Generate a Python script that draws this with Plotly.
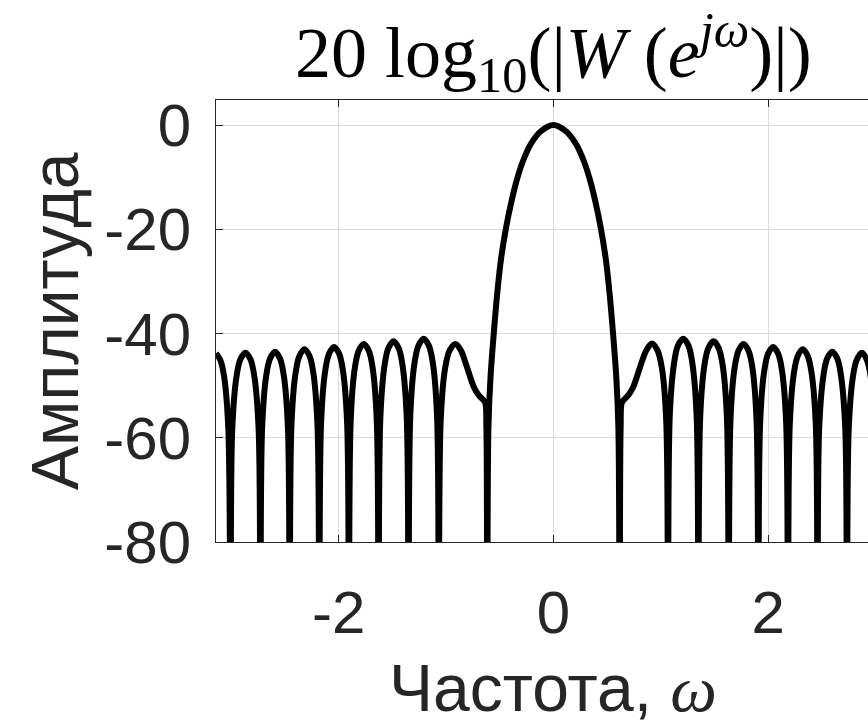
import plotly.graph_objects as go

# Частота (рад/отсчёт) и амплитуда (дБ)
NULL = -100  # глубокие нули уходят ниже нижней границы оси
omega = [
    -3.1416, -3.101, -3.065, -3.027, -3.007,
    -2.990, -2.951, -2.915, -2.868, -2.820, -2.784, -2.745, -2.728,
    -2.712, -2.674, -2.638, -2.592, -2.546, -2.510, -2.472, -2.456,
    -2.439, -2.401, -2.365, -2.318, -2.271, -2.235, -2.197, -2.180,
    -2.163, -2.125, -2.089, -2.042, -1.995, -1.959, -1.921, -1.904,
    -1.887, -1.849, -1.813, -1.766, -1.719, -1.683, -1.645, -1.628,
    -1.611, -1.572, -1.536, -1.489, -1.441, -1.405, -1.366, -1.349,
    -1.332, -1.293, -1.256, -1.208, -1.160, -1.123, -1.084, -1.067,
    -1.049, -1.008, -0.965, -0.912, -0.862, -0.820, -0.780, -0.740,
    -0.700, -0.660, -0.635, -0.624, -0.617,
    -0.605, -0.586, -0.555, -0.524, -0.487, -0.440, -0.394, -0.347,
    -0.285, -0.209, -0.117, 0.0,
    0.117, 0.209, 0.285, 0.347, 0.394, 0.440, 0.487, 0.524, 0.555,
    0.586, 0.605,
    0.617, 0.626, 0.637, 0.662, 0.702, 0.742, 0.782, 0.822, 0.866,
    0.918, 0.968, 1.010, 1.050, 1.067,
    1.084, 1.124, 1.160, 1.209, 1.257, 1.293, 1.333, 1.350,
    1.367, 1.406, 1.443, 1.491, 1.539, 1.576, 1.615, 1.632,
    1.649, 1.687, 1.723, 1.770, 1.817, 1.853, 1.891, 1.908,
    1.925, 1.963, 1.999, 2.046, 2.093, 2.129, 2.167, 2.184,
    2.201, 2.239, 2.275, 2.322, 2.368, 2.404, 2.443, 2.459,
    2.475, 2.514, 2.549, 2.596, 2.643, 2.678, 2.717, 2.733,
    2.750, 2.788, 2.824, 2.872, 2.919, 2.955, 2.993, 3.010,
    3.027, 3.065, 3.101, 3.1416,
]
amp_db = [
    -43.8, -45.1, -48.4, -58.3, NULL,
    -58.2, -48.3, -45.0, -43.7, -45.0, -48.3, -58.2, NULL,
    -58.0, -48.1, -44.8, -43.5, -44.8, -48.1, -58.0, NULL,
    -57.5, -47.6, -44.3, -43.0, -44.3, -47.6, -57.5, NULL,
    -57.1, -47.2, -43.9, -42.6, -43.9, -47.2, -57.1, NULL,
    -56.5, -46.6, -43.3, -42.0, -43.3, -46.6, -56.5, NULL,
    -56.0, -46.1, -42.8, -41.5, -42.8, -46.1, -56.0, NULL,
    -55.5, -45.6, -42.3, -41.0, -42.3, -45.6, -55.5, NULL,
    -56.5, -46.6, -43.2, -42.0, -43.2, -45.5, -48.0, -50.3,
    -51.7, -52.6, -53.3, -58.0, NULL,
    -58.0, -48.5, -39.9, -32.5, -25.6, -19.6, -15.0, -11.0,
    -7.0, -3.6, -1.2, 0.0,
    -1.2, -3.6, -7.0, -11.0, -15.0, -19.6, -25.6, -32.5, -39.9,
    -48.5, -58.0,
    NULL, -58.0, -53.3, -52.6, -51.7, -50.3, -48.0, -45.5, -43.2,
    -41.9, -43.2, -46.6, -56.5, NULL,
    -55.5, -45.6, -42.3, -41.0, -42.3, -45.6, -55.5, NULL,
    -56.0, -46.1, -42.8, -41.5, -42.8, -46.1, -56.0, NULL,
    -56.5, -46.6, -43.3, -42.0, -43.3, -46.6, -56.5, NULL,
    -57.1, -47.2, -43.9, -42.6, -43.9, -47.2, -57.1, NULL,
    -57.5, -47.6, -44.3, -43.0, -44.3, -47.6, -57.5, NULL,
    -58.0, -48.1, -44.8, -43.5, -44.8, -48.1, -58.0, NULL,
    -58.2, -48.4, -45.1, -43.7, -45.1, -48.4, -58.2, NULL,
    -58.4, -48.5, -45.2, -43.9,
]

x_ticks = [-2, 0, 2]
y_ticks = [0, -20, -40, -60, -80]
title_text = "20 log<sub>10</sub>(|<i>W</i> (<i>e</i><sup><i>jω</i></sup>)|)"
x_label = "Частота, <i><span style='font-family:Liberation Serif'>ω</span></i>"
y_label = "Амплитуда"

W, H = 868, 727
L, T, B = 216, 100, 185
plot_w = W - L
px_per_unit = 107.4
x_max = plot_w / px_per_unit - 3.14159265

AX = "#262626"
GRID = "#dcdcdc"
SANS = "Liberation Sans, Arial, sans-serif"

fig = go.Figure(go.Scatter(
    x=omega, y=amp_db, mode="lines",
    line=dict(color="black", width=6, shape="spline", smoothing=1.0),
    hoverinfo="skip", showlegend=False,
))

fig.update_layout(
    width=W, height=H,
    margin=dict(l=L, r=0, t=T, b=B, pad=0),
    paper_bgcolor="white", plot_bgcolor="white",
    font=dict(family=SANS, color=AX),
    xaxis=dict(
        range=[-3.14159265, x_max], tickvals=x_ticks, ticktext=[str(v) for v in x_ticks],
        showgrid=True, gridcolor=GRID, gridwidth=1, zeroline=False,
        showline=True, linecolor=AX, linewidth=1, mirror="ticks",
        ticks="inside", ticklen=7, tickwidth=1, tickcolor=AX,
        tickfont=dict(size=60, family=SANS, color=AX), ticklabelstandoff=18,
    ),
    yaxis=dict(
        range=[-80, 4.8], tickvals=y_ticks, ticktext=[str(v) for v in y_ticks],
        showgrid=True, gridcolor=GRID, gridwidth=1, zeroline=False,
        showline=True, linecolor=AX, linewidth=1, mirror=False,
        ticks="inside", ticklen=7, tickwidth=1, tickcolor=AX,
        tickfont=dict(size=60, family=SANS, color=AX), ticklabelstandoff=12,
    ),
    annotations=[
        dict(text=title_text, xref="x", x=0, yref="paper", y=(542 - 53) / 442,
             xanchor="center", yanchor="middle", showarrow=False,
             font=dict(family="Liberation Serif, serif", size=72, color="black")),
        dict(text=x_label, xref="x", x=0, yref="paper", y=(542 - 688) / 442,
             xanchor="center", yanchor="middle", showarrow=False,
             font=dict(family=SANS, size=66, color=AX)),
        dict(text=y_label, xref="paper", x=(55 - L) / plot_w, yref="paper", y=0.5,
             xanchor="center", yanchor="middle", textangle=-90, showarrow=False,
             font=dict(family=SANS, size=66, color=AX)),
    ],
)

fig.write_html("out.html")
